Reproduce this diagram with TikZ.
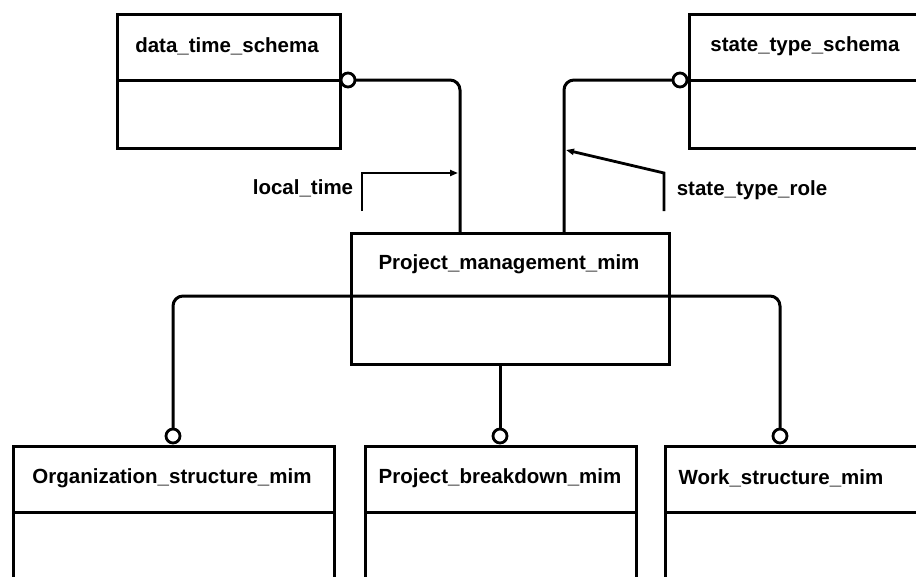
\documentclass[tikz,border=0pt]{standalone}
\usepackage{fontspec}
\setmainfont{Liberation Sans}
\usetikzlibrary{arrows.meta}
\begin{document}
\begin{tikzpicture}[x=1pt,y=-1pt,
  ln/.style={line width=3pt},
  thin ln/.style={line width=2.8pt},
  ent/.style={draw, line width=3pt, rectangle, anchor=north west, inner sep=0pt},
  lbl/.style={font=\fontsize{20.5}{24}\selectfont\bfseries, inner sep=0pt},
  circ/.style={circle, draw, fill=white, line width=2.8pt, minimum size=14pt, inner sep=0pt},
  arr/.style={-{Triangle[length=8pt,width=6pt]}}]
\clip (0,0) rectangle (916,576);
\fill[white] (0,0) rectangle (916,576);
% entity boxes
\node[ent, minimum width=223pt, minimum height=134pt] (dts) at (116,13) {};
\node[ent, minimum width=260pt, minimum height=134pt] (sts) at (688,13) {};
\node[ent, minimum width=318pt, minimum height=131pt] (pm) at (350,232) {};
\node[ent, minimum width=321pt, minimum height=160pt] (os) at (12,445) {};
\node[ent, minimum width=271pt, minimum height=160pt] (pb) at (364,445) {};
\node[ent, minimum width=280pt, minimum height=160pt] (ws) at (664,445) {};
% dividers
\draw[ln] (116,80) -- (339,80);
\draw[ln] (688,80) -- (930,80);
\draw[ln] (12,512) -- (333,512);
\draw[ln] (364,512) -- (635,512);
\draw[ln] (664,512) -- (930,512);
% titles
\node[lbl] (dtsT) at (227,46) {data\_time\_schema};
\node[lbl] (stsT) at (805,46) {state\_type\_schema};
\node[lbl] (pmT) at (509,264) {Project\_management\_mim};
\node[lbl] (osT) at (172,478) {Organization\_structure\_mim};
\node[lbl] (pbT) at (500,478) {Project\_breakdown\_mim};
\node[lbl] (wsT) at (781,478) {Work\_structure\_mim};
\node[lbl] (ltT) at (303,188) {local\_time};
\node[lbl] (srT) at (752,190) {state\_type\_role};
% connection points
\coordinate (pmL) at (460,232);
\coordinate (pmR) at (564,232);
\coordinate (pmB) at (500,363);
\coordinate (pmD) at (350,296);
% connectors
\draw[ln, rounded corners=10pt] (348,80) -- (460,80) -- (pmL);
\draw[ln, rounded corners=10pt] (680,80) -- (564,80) -- (pmR);
\draw[ln, rounded corners=10pt] (173,436) -- (173,296) -- (780,296) -- (780,436);
\draw[ln] (pmB) -- (500,436);
% circles
\node[circ] (c1) at (348,80) {};
\node[circ] (c2) at (680,80) {};
\node[circ] (c4) at (173,436) {};
\node[circ] (c5) at (500,436) {};
\node[circ] (c6) at (780,436) {};
% role brackets
\coordinate (lt0) at (362,211);
\coordinate (lt1) at (458,173);
\draw[thin ln, arr] (lt0) |- (lt1);
\coordinate (sr0) at (664,211);
\coordinate (sr1) at (664,173);
\coordinate (sr2) at (566,150);
\draw[thin ln, arr] (sr0) -- (sr1) -- (sr2);
\end{tikzpicture}
\end{document}
